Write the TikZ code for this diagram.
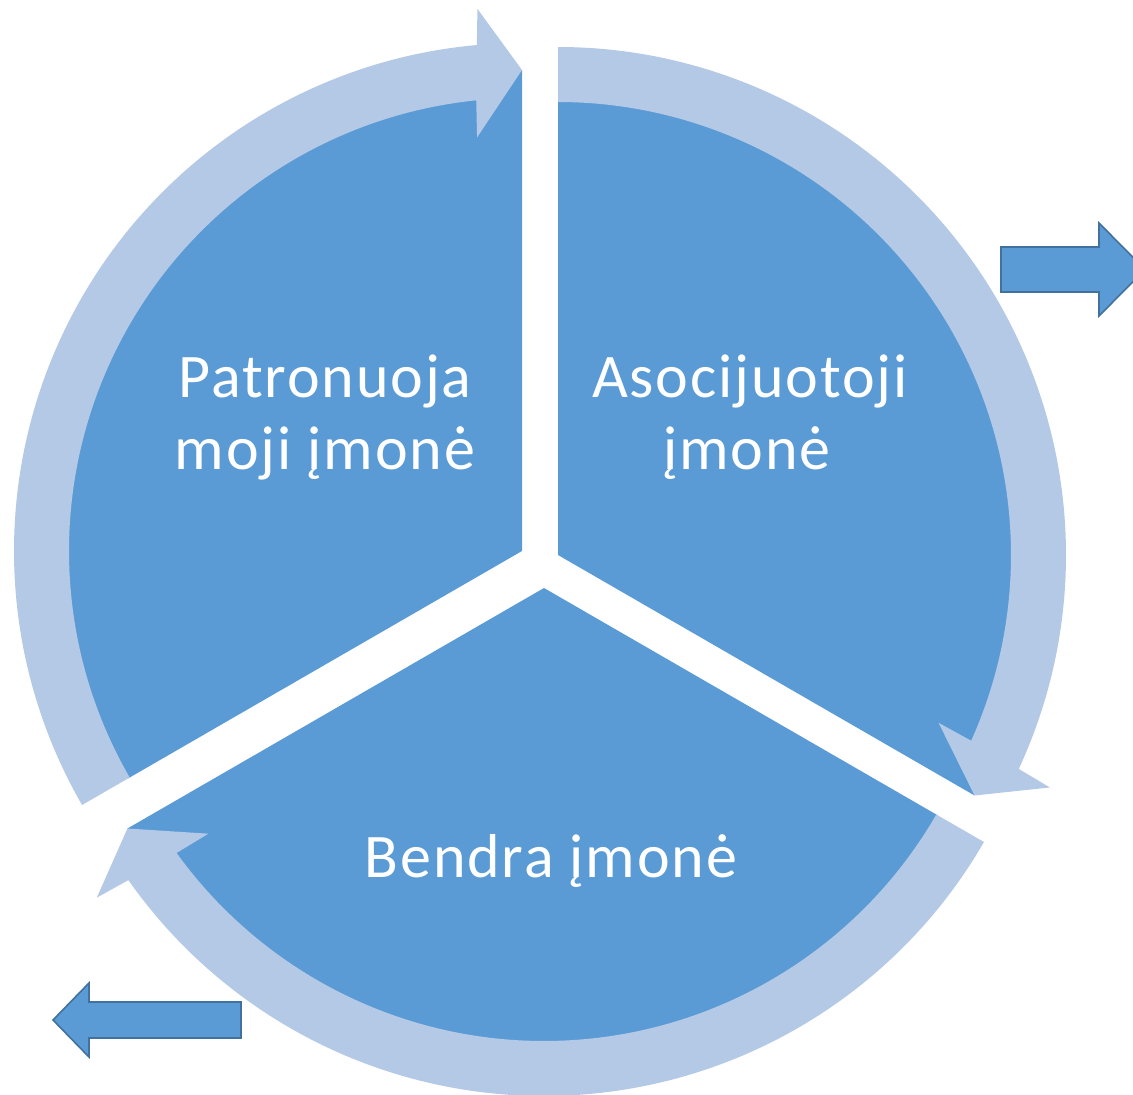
\documentclass[tikz,border=0pt]{standalone}
\usepackage{fontspec}
\setmainfont{Carlito}
\newfontfamily\labelfont[LetterSpace=3]{Carlito}
\definecolor{darkblue}{HTML}{5B9BD5}
\definecolor{ringblue}{HTML}{B4C9E5}
\definecolor{edgeblue}{HTML}{41719C}
\newcommand\sectorring[3]{%
 \begin{scope}[shift={#1}]
  \fill[darkfill] (0,0) -- (#2:455) arc[start angle=#2, end angle=#3+8, radius=455pt] -- (#3:481) -- cycle;
  \fill[ringfill] (#2:508) arc[start angle=#2, end angle=#3+5.1, radius=508pt]
     -- (#3+4.7:544) -- (#3:481) -- (#3+6.2:416) -- (#3+5.8:453)
     arc[start angle=#3+5.8, end angle=#2, radius=453pt] -- cycle;
 \end{scope}}
\begin{document}
\begin{tikzpicture}[x=1pt,y=1pt,
  darkfill/.style={fill=darkblue},
  ringfill/.style={fill=ringblue},
  blockarrow/.style={fill=darkblue,draw=edgeblue,line width=1.6pt,line join=miter},
  label/.style={text=white,inner sep=0pt,anchor=base,font=\labelfont\fontsize{62}{72}\selectfont}]
\useasboundingbox (0,0) rectangle (1133,-1095);
\clip (0,0) rectangle (1133,-1095);
\sectorring{(522,-551)}{210}{90}
\sectorring{(558,-555)}{90}{-30}
\sectorring{(544,-588)}{-30}{-150}
\node[label] (t1a) at (325,-397) {Patronuoja};
\node[label] (t1b) at (325,-469) {moji įmonė};
\node[label] (t2a) at (750,-397) {Asocijuotoji};
\node[label] (t2b) at (747,-469) {įmonė};
\node[label] (t3) at (551,-877) {Bendra įmonė};
\draw[blockarrow] (1001,-247) -- (1099,-247) -- (1099,-223) -- (1145,-269.5) -- (1099,-316) -- (1099,-292) -- (1001,-292) -- cycle;
\draw[blockarrow] (241,-1002) -- (89,-1002) -- (89,-983) -- (53,-1020) -- (89,-1057) -- (89,-1038) -- (241,-1038) -- cycle;
\end{tikzpicture}
\end{document}
